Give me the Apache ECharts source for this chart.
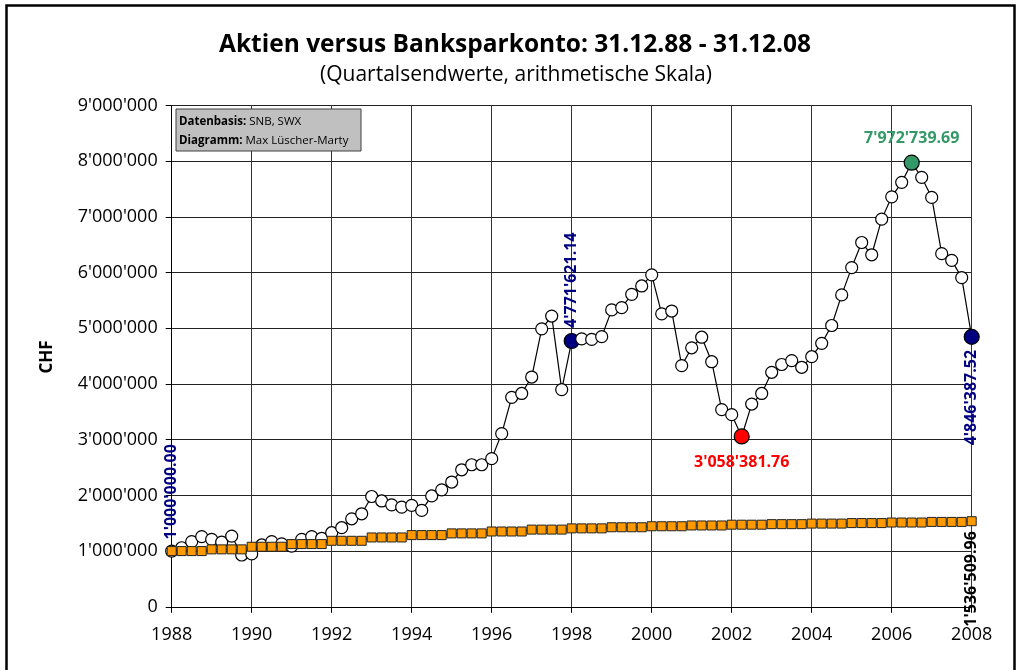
<!DOCTYPE html>
<html>
<head>
<meta charset="utf-8">
<script src="https://cdn.jsdelivr.net/npm/echarts@6/dist/echarts.min.js"></script>
<style>
html,body{margin:0;padding:0;background:#fff;}
#chart{width:1016px;height:670px;}
</style>
</head>
<body>
<div id="chart"></div>
<script>
// ---- data (quarter-end values, 31.12.88 .. 31.12.08) ----
const startYear = 1988;
const stockValues = [
  1000000, 1060000, 1170000, 1260000, 1210000, 1160000, 1270000, 930000,
  950000, 1110000, 1170000, 1130000, 1090000, 1210000, 1260000, 1230000,
  1330000, 1420000, 1580000, 1670000, 1980000, 1900000, 1830000, 1790000,
  1820000, 1730000, 1990000, 2100000, 2240000, 2460000, 2550000, 2550000,
  2660000, 3110000, 3760000, 3830000, 4125000, 4990000, 5220000, 3900000,
  4771621.14, 4810000, 4800000, 4850000, 5330000, 5370000, 5610000, 5760000,
  5960000, 5260000, 5310000, 4330000, 4650000, 4840000, 4400000, 3540000,
  3450000, 3058381.76, 3640000, 3830000, 4210000, 4350000, 4420000, 4300000,
  4490000, 4730000, 5050000, 5600000, 6090000, 6540000, 6320000, 6960000,
  7360000, 7620000, 7972739.69, 7710000, 7350000, 6340000, 6220000, 5910000,
  4846387.52
];
const bankValues = [
  1000000, 1000000, 1000000, 1000000, 1031000, 1031000, 1031000, 1031000,
  1078000, 1078000, 1078000, 1078000, 1126000, 1126000, 1126000, 1126000,
  1185000, 1185000, 1185000, 1185000, 1245000, 1245000, 1245000, 1245000,
  1287000, 1287000, 1287000, 1287000, 1318000, 1318000, 1318000, 1318000,
  1352000, 1352000, 1352000, 1352000, 1386000, 1386000, 1386000, 1386000,
  1408000, 1408000, 1408000, 1408000, 1428000, 1428000, 1428000, 1428000,
  1446000, 1446000, 1446000, 1446000, 1460000, 1460000, 1460000, 1460000,
  1474000, 1474000, 1474000, 1474000, 1484000, 1484000, 1484000, 1484000,
  1494000, 1494000, 1494000, 1494000, 1503000, 1503000, 1503000, 1503000,
  1513000, 1513000, 1513000, 1513000, 1524000, 1524000, 1524000, 1524000,
  1536509.96
];
const xTickLabels = ['1988','1990','1992','1994','1996','1998','2000','2002','2004','2006','2008'];
const titleText = 'Aktien versus Banksparkonto: 31.12.88 - 31.12.08';
const subtitleText = '(Quartalsendwerte, arithmetische Skala)';
const yAxisName = 'CHF';
const infoLines = [['Datenbasis:', ' SNB, SWX'], ['Diagramm:', ' Max Lüscher-Marty']];
// highlighted points: index -> [fill, label colour, placement]
const stockHighlights = {
  0:  [null,      '#000080', 'upRot'],
  40: ['#000080', '#000080', 'upRot'],
  57: ['#ff0000', '#ff0000', 'down'],
  74: ['#339966', '#339966', 'up'],
  80: ['#000080', '#000080', 'downRot']
};
const bankHighlights = { 80: ['#ff9900', '#000000', 'downRot'] };

// ---- helpers ----
const FONT = 'Open Sans';
function sep(str) { return str.replace(/\B(?=(\d{3})+(?!\d))/g, "'"); }
function fmtInt(v) { return sep(String(Math.round(v))); }
function fmt2(v) { const p = v.toFixed(2).split('.'); return sep(p[0]) + '.' + p[1]; }

function labelFor(color, place) {
  const base = { show: true, color: color, fontFamily: FONT, fontWeight: 'bold', fontSize: 16,
                 formatter: p => fmt2(p.value[1]) };
  if (place === 'up') return Object.assign(base, { position: 'top', distance: 8 });
  if (place === 'down') return Object.assign(base, { position: 'bottom', distance: 10 });
  if (place === 'upRot') return Object.assign(base, { position: 'top', distance: 5, rotate: 90, align: 'left', verticalAlign: 'middle' });
  return Object.assign(base, { position: 'bottom', distance: 5, rotate: 90, align: 'right', verticalAlign: 'middle' });
}

const stockData = stockValues.map((v, i) => {
  const item = { value: [startYear + i * 0.25, v] };
  const h = stockHighlights[i];
  if (h) {
    if (h[0]) { item.itemStyle = { color: h[0] }; item.symbolSize = 15; }
    item.label = labelFor(h[1], h[2]);
  }
  return item;
});
const bankData = bankValues.map((v, i) => {
  const item = { value: [startYear + i * 0.25, v] };
  const h = bankHighlights[i];
  if (h) item.label = labelFor(h[1], h[2]);
  return item;
});

const chart = echarts.init(document.getElementById('chart'), null, { renderer: 'canvas' });
chart.setOption({
  animation: false,
  backgroundColor: '#ffffff',
  textStyle: { fontFamily: FONT },
  grid: { left: 171.7, right: 44.3, top: 105.5, bottom: 63.2, containLabel: false },
  xAxis: {
    type: 'value', min: 1988, max: 2008, interval: 2,
    axisLine: { show: true, lineStyle: { color: '#000', width: 1 } },
    axisTick: { show: true, length: 6, lineStyle: { color: '#000' } },
    splitLine: { show: true, lineStyle: { color: '#333', width: 1 } },
    axisLabel: { color: '#000', fontSize: 18, fontFamily: FONT, margin: 19,
                 formatter: v => xTickLabels[Math.round((v - 1988) / 2)] || '' }
  },
  yAxis: {
    type: 'value', min: 0, max: 9000000, interval: 1000000,
    axisLine: { show: true, lineStyle: { color: '#000', width: 1 } },
    axisTick: { show: true, length: 6, lineStyle: { color: '#000' } },
    splitLine: { show: true, lineStyle: { color: '#222', width: 1 } },
    axisLabel: { color: '#000', fontSize: 18, fontFamily: FONT, margin: 14, formatter: v => fmtInt(v) }
  },
  series: [
    {
      name: 'Aktien', type: 'line', data: stockData,
      symbol: 'circle', symbolSize: 12,
      lineStyle: { color: '#000', width: 1.2 },
      itemStyle: { color: '#fff', borderColor: '#000', borderWidth: 1.2 },
      emphasis: { disabled: true }, z: 2
    },
    {
      name: 'Banksparkonto', type: 'line', data: bankData,
      symbol: 'rect', symbolSize: 9,
      lineStyle: { color: '#333', width: 1 },
      itemStyle: { color: '#ff9900', borderColor: '#222', borderWidth: 1 },
      emphasis: { disabled: true }, z: 3
    }
  ],
  graphic: [
    { type: 'rect', left: 4, top: 3, shape: { width: 1008, height: 720 }, silent: true,
      style: { fill: 'none', stroke: '#000', lineWidth: 2.5 }, z: 100 },
    { type: 'text', x: 515, y: 45, silent: true,
      style: { text: titleText, fill: '#000', font: 'bold 24.5px "Open Sans"', align: 'center', verticalAlign: 'middle' } },
    { type: 'text', x: 516, y: 75, silent: true,
      style: { text: subtitleText, fill: '#000', font: '21px "Open Sans"', align: 'center', verticalAlign: 'middle' } },
    { type: 'text', x: 47, y: 357, rotation: Math.PI / 2, silent: true,
      style: { text: yAxisName, fill: '#000', font: 'bold 17px "Open Sans"', align: 'center', verticalAlign: 'middle' } },
    { type: 'rect', shape: { x: 176, y: 109, width: 185, height: 42 }, silent: true,
      style: { fill: '#c0c0c0', stroke: '#404040', lineWidth: 1 }, z: 50 },
    { type: 'text', x: 179, y: 131, silent: true, z: 51,
      style: {
        text: infoLines.map(l => '{b|' + l[0] + '}{n|' + l[1] + '}').join('\n'),
        rich: {
          b: { fontFamily: FONT, fontWeight: 'bold', fontSize: 11.5, fill: '#000', lineHeight: 19 },
          n: { fontFamily: FONT, fontSize: 11.5, fill: '#000', lineHeight: 19 }
        },
        verticalAlign: 'middle', align: 'left'
      } }
  ]
});
</script>
</body>
</html>
